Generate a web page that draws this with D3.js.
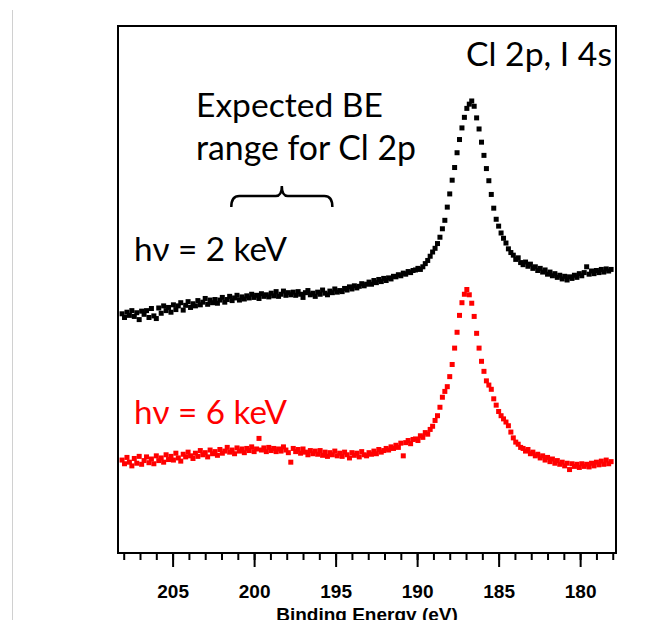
<!DOCTYPE html>
<html>
<head>
<meta charset="utf-8">
<script src="https://cdn.jsdelivr.net/npm/d3@7"></script>
<style>
  body { margin: 0; background: #fff; }
  svg { display: block; }
</style>
</head>
<body>
<div id="chart"></div>
<script>
// Binding energy grid (eV), shared by both spectra
const energy = [
  208.10, 207.95, 207.80, 207.65, 207.50, 207.35, 207.20, 207.05, 206.90, 206.75,
  206.60, 206.45, 206.30, 206.15, 206.00, 205.85, 205.70, 205.55, 205.40, 205.25,
  205.10, 204.95, 204.80, 204.65, 204.50, 204.35, 204.20, 204.05, 203.90, 203.75,
  203.60, 203.45, 203.30, 203.15, 203.00, 202.85, 202.70, 202.55, 202.40, 202.25,
  202.10, 201.95, 201.80, 201.65, 201.50, 201.35, 201.20, 201.05, 200.90, 200.75,
  200.60, 200.45, 200.30, 200.15, 200.00, 199.85, 199.70, 199.55, 199.40, 199.25,
  199.10, 198.95, 198.80, 198.65, 198.50, 198.35, 198.20, 198.05, 197.90, 197.75,
  197.60, 197.45, 197.30, 197.15, 197.00, 196.85, 196.70, 196.55, 196.40, 196.25,
  196.10, 195.95, 195.80, 195.65, 195.50, 195.35, 195.20, 195.05, 194.90, 194.75,
  194.60, 194.45, 194.30, 194.15, 194.00, 193.85, 193.70, 193.55, 193.40, 193.25,
  193.10, 192.95, 192.80, 192.65, 192.50, 192.35, 192.20, 192.05, 191.90, 191.75,
  191.60, 191.45, 191.30, 191.15, 191.00, 190.85, 190.70, 190.55, 190.40, 190.25,
  190.10, 189.95, 189.80, 189.65, 189.50, 189.35, 189.20, 189.05, 188.90, 188.75,
  188.60, 188.45, 188.30, 188.15, 188.00, 187.85, 187.70, 187.55, 187.40, 187.25,
  187.10, 186.95, 186.80, 186.65, 186.50, 186.35, 186.20, 186.05, 185.90, 185.75,
  185.60, 185.45, 185.30, 185.15, 185.00, 184.85, 184.70, 184.55, 184.40, 184.25,
  184.10, 183.95, 183.80, 183.65, 183.50, 183.35, 183.20, 183.05, 182.90, 182.75,
  182.60, 182.45, 182.30, 182.15, 182.00, 181.85, 181.70, 181.55, 181.40, 181.25,
  181.10, 180.95, 180.80, 180.65, 180.50, 180.35, 180.20, 180.05, 179.90, 179.75,
  179.60, 179.45, 179.30, 179.15, 179.00, 178.85, 178.70, 178.55, 178.40, 178.25,
  178.10
];

// Intensity (arb. units, offset) at hv = 2 keV
const hv2keV = [
  45.3, 44.6, 45.6, 45.0, 45.9, 44.8, 45.5, 44.2, 45.8, 45.2,
  45.9, 44.6, 46.3, 44.9, 44.4, 46.4, 45.4, 46.8, 45.9, 46.5,
  45.6, 47.0, 46.1, 46.8, 47.4, 46.0, 46.9, 47.6, 46.5, 47.2,
  46.8, 47.8, 47.0, 47.5, 48.2, 47.1, 47.9, 47.4, 48.0, 47.3,
  47.9, 48.4, 47.5, 48.0, 48.6, 47.8, 48.3, 48.8, 47.9, 48.5,
  48.1, 48.7, 48.3, 49.0, 48.4, 48.8, 48.2, 49.1, 48.6, 48.9,
  48.5, 49.2, 48.7, 49.5, 48.6, 49.0, 49.6, 48.8, 49.3, 48.9,
  49.4, 48.8, 49.5, 49.0, 48.4, 49.3, 49.7, 48.9, 49.2, 48.6,
  49.4, 49.0, 49.8, 49.2, 48.9, 49.6, 49.3, 50.0, 49.4, 49.7,
  49.5, 50.1, 49.8, 50.4, 50.0, 50.6, 50.2, 50.5, 51.0, 50.6,
  50.9, 51.3, 50.9, 51.6, 51.2, 51.8, 51.4, 52.0, 51.6, 52.1,
  51.9, 52.4, 52.3, 52.7, 52.5, 53.0, 52.8, 53.3, 53.1, 53.5,
  53.6, 53.9, 53.7, 54.2, 54.8, 55.4, 56.2, 57.0, 57.7, 58.6,
  59.8, 61.4, 63.0, 65.5, 68.0, 70.6, 73.0, 75.8, 78.3, 80.5,
  82.5, 84.2, 85.0, 85.6, 84.6, 82.4, 80.3, 77.8, 75.3, 72.8,
  70.5, 67.9, 65.3, 63.2, 61.9, 60.6, 59.6, 58.7, 57.6, 56.9,
  56.4, 55.6, 55.9, 55.0, 54.6, 55.1, 54.3, 54.7, 53.9, 54.2,
  53.5, 53.9, 53.2, 53.6, 52.8, 53.2, 52.5, 52.9, 52.2, 52.6,
  51.9, 52.4, 51.7, 52.3, 52.0, 52.6, 52.2, 52.9, 52.5, 53.1,
  54.2, 52.8, 53.4, 52.9, 53.5, 53.1, 53.7, 53.2, 53.8, 53.4,
  53.7
];

// Intensity (arb. units, offset) at hv = 6 keV
const hv6keV = [
  17.6, 16.9, 18.1, 17.2, 16.5, 17.9, 17.0, 18.3, 16.8, 17.5,
  18.2, 17.1, 17.8, 16.9, 18.4, 17.5, 18.0, 17.2, 18.6, 17.7,
  18.3, 17.6, 18.9, 18.0, 17.4, 18.7, 18.2, 19.1, 18.4, 17.9,
  18.9, 18.3, 19.4, 18.6, 19.0, 18.2, 19.5, 18.8, 19.2, 18.5,
  19.6, 18.9, 19.3, 20.0, 19.1, 19.5, 18.8, 19.9, 19.3, 19.7,
  19.0, 19.8, 19.4, 20.1, 19.2, 19.7, 21.7, 19.5, 19.9, 19.2,
  20.0, 19.4, 19.8, 19.2, 19.7, 19.3, 20.1, 19.5, 19.0, 17.2,
  19.8, 19.2, 19.6, 18.9, 19.7, 19.1, 18.6, 19.4, 18.8, 19.3,
  18.7, 19.4, 18.5, 19.1, 18.3, 19.0, 18.6, 19.3, 18.4, 18.9,
  18.3, 19.1, 18.6, 18.0, 19.0, 18.5, 18.9, 18.2, 19.2, 18.6,
  18.4, 19.0, 18.7, 19.3, 18.8, 19.6, 19.1, 19.4, 19.8, 19.5,
  20.1, 19.8, 20.4, 20.0, 20.8, 18.4, 20.9, 21.3, 20.7, 21.5,
  21.6, 21.3, 22.2, 21.9, 22.8, 22.5, 23.4, 24.0, 25.1, 26.0,
  27.6, 29.5, 30.6, 31.5, 33.4, 35.7, 38.8, 41.8, 45.0, 47.4,
  49.0, 49.9, 48.9, 47.3, 44.8, 41.6, 38.8, 36.3, 34.4, 32.6,
  31.8, 31.0, 29.2, 28.0, 26.8, 26.0, 25.4, 24.8, 24.1, 22.9,
  21.8, 21.0, 20.6, 20.0, 19.8, 19.3, 19.6, 18.8, 19.1, 18.4,
  18.7, 18.0, 18.4, 17.6, 18.1, 17.3, 17.8, 17.0, 17.5, 16.8,
  17.2, 16.5, 17.0, 15.8, 16.9, 16.4, 16.8, 16.2, 16.9, 16.4,
  16.8, 16.3, 17.0, 16.5, 17.2, 16.7, 17.4, 16.8, 17.6, 16.9,
  17.3
];

const majorTicks = [205, 200, 195, 190, 185, 180];
const minorTicks = d3.range(178, 209);
const bracketRange = [201.4, 195.2]; // expected Cl 2p BE range (eV)

const width = 648, height = 620;
const plot = { left: 118, top: 26, right: 616, bottom: 553 };

const svg = d3.select("#chart").append("svg")
  .attr("width", width)
  .attr("height", height);

// thin grey page edge on the left
svg.append("line")
  .attr("x1", 12.5).attr("x2", 12.5)
  .attr("y1", 10).attr("y2", height)
  .attr("stroke", "#d0d0d0")
  .attr("stroke-width", 1);

const x = d3.scaleLinear()
  .domain([208.35, 177.8])
  .range([plot.left, plot.right]);

const y = d3.scaleLinear()
  .domain([0, 99.8])
  .range([plot.bottom, plot.top]);

// minor ticks every 1 eV
const minorAxis = svg.append("g")
  .attr("transform", `translate(0,${plot.bottom})`)
  .call(d3.axisBottom(x).tickValues(minorTicks).tickSize(7).tickFormat(""));
minorAxis.select(".domain").remove();
minorAxis.selectAll("line").attr("stroke", "#000").attr("stroke-width", 2);

// major ticks with labels
const majorAxis = svg.append("g")
  .attr("transform", `translate(0,${plot.bottom})`)
  .call(d3.axisBottom(x).tickValues(majorTicks).tickSize(14).tickFormat(d3.format("d")));
majorAxis.select(".domain").remove();
majorAxis.selectAll("line").attr("stroke", "#000").attr("stroke-width", 2);
majorAxis.selectAll("text")
  .attr("y", 45)
  .attr("dy", 0)
  .attr("fill", "#000")
  .style("font-family", "'Liberation Sans', Arial, sans-serif")
  .style("font-weight", "bold")
  .style("font-size", "19px");

// frame
svg.append("rect")
  .attr("x", plot.left)
  .attr("y", plot.top)
  .attr("width", plot.right - plot.left)
  .attr("height", plot.bottom - plot.top)
  .attr("fill", "none")
  .attr("stroke", "#000")
  .attr("stroke-width", 2);

// x-axis title (cut off by the bottom of the picture, as in the original)
svg.append("text")
  .attr("x", (plot.left + plot.right) / 2)
  .attr("y", 621)
  .attr("text-anchor", "middle")
  .style("font-family", "'Liberation Sans', Arial, sans-serif")
  .style("font-weight", "bold")
  .style("font-size", "19px")
  .text("Binding Energy (eV)");

// data markers
function drawSeries(values, color) {
  svg.append("g").selectAll("rect")
    .data(energy.map((e, i) => ({ e, v: values[i] })))
    .enter().append("rect")
    .attr("x", d => x(d.e) - 2.5)
    .attr("y", d => y(d.v) - 2.5)
    .attr("width", 5)
    .attr("height", 5)
    .attr("fill", color);
}
drawSeries(hv2keV, "#000");
drawSeries(hv6keV, "#ff0000");

// annotations, font scaled so each line spans the same width as the original
const font = "Lato, 'Open Sans', sans-serif";
function label(txt, px, py, w, color, anchor) {
  const t = svg.append("text")
    .attr("x", px).attr("y", py)
    .attr("text-anchor", anchor || "start")
    .attr("fill", color)
    .style("font-family", font)
    .attr("font-size", 36)
    .text(txt);
  const len = t.node().getComputedTextLength();
  if (len > 0) t.attr("font-size", 36 * w / len);
  return t;
}
label("Cl 2p, I 4s", 612, 66, 146, "#000", "end");
label("Expected BE", 196, 117, 187, "#000");
label("range for Cl 2p", 196, 160, 220, "#000");
label("h\u03BD = 2 keV", 134, 261, 153, "#000");
label("h\u03BD = 6 keV", 134, 424, 153, "#ff0000");

// curly bracket over the expected range
const bx0 = x(bracketRange[0]), bx1 = x(bracketRange[1]), bm = (bx0 + bx1) / 2;
const by = 196;
svg.append("path")
  .attr("d", `M${bx0},${by + 11} Q${bx0},${by} ${bx0 + 8},${by} L${bm - 6},${by} Q${bm},${by} ${bm},${by - 10} Q${bm},${by} ${bm + 6},${by} L${bx1 - 8},${by} Q${bx1},${by} ${bx1},${by + 11}`)
  .attr("fill", "none")
  .attr("stroke", "#000")
  .attr("stroke-width", 2.5);
</script>
</body>
</html>
